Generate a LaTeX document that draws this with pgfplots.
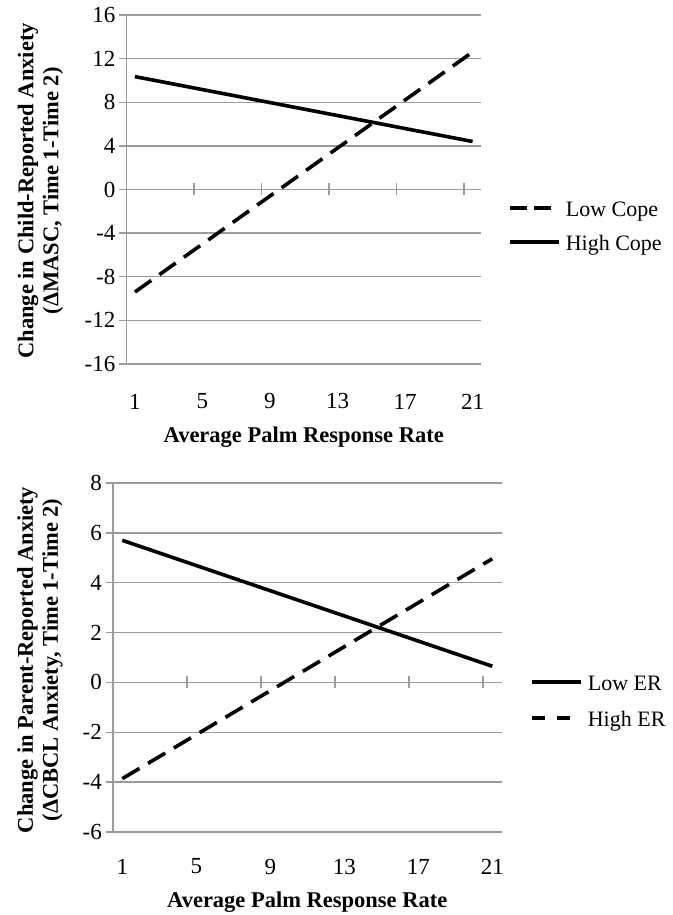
\documentclass[border=0pt]{standalone}
\usepackage{fontspec}
\setmainfont{Liberation Serif}
\usepackage{pgfplots}
\pgfplotsset{compat=1.18}
\definecolor{gridgray}{RGB}{155,155,155}

\pgfplotsset{
  excelstyle/.style={
    scale only axis, height=349bp,
    xmin=0.5, xmax=21.5,
    axis y line*=left, axis x line*=middle,
    hide obscured x ticks=false, hide obscured y ticks=false,
    axis line style={gridgray, line width=1.3bp},
    ymajorgrids, grid style={gridgray, line width=1.3bp},
    xtick={1,5,9,13,17,21},
    xticklabels={1,5,9,13,17,21},
    minor xtick={4.5,8.5,12.5,16.5,20.5},
    major x tick style={draw=none},
    minor x tick style={gridgray, line width=1.3bp},
    minor tick length=12bp,
    major tick length=7bp,
    xtick align=center, ytick align=outside,
    y tick style={gridgray, line width=1.3bp},
    tick label style={font=\fontsize{23bp}{27bp}\selectfont, text=black},
    yticklabel style={anchor=east, inner sep=0pt, xshift=-4bp},
    xticklabel style={anchor=center, inner sep=0pt},
    label style={font=\fontsize{22.5bp}{25bp}\selectfont\bfseries},
    ylabel style={align=center, anchor=center},
    xlabel style={anchor=center},
    legend style={draw=none, fill=none, inner sep=0pt, font=\fontsize{22bp}{25bp}\selectfont,
      anchor=west, nodes={inner sep=0pt, anchor=west, text height=18bp, text depth=2bp},
      /tikz/every odd column/.append style={column sep=5bp}},
    legend cell align=left,
    legend image code/.code={\draw[##1] (0bp,0bp) -- (49bp,0bp);},
  },
}

\begin{document}
\begin{tikzpicture}
\useasboundingbox (0,0) rectangle (673bp,915bp);
% ---------- top panel ----------
\begin{axis}[excelstyle,
  at={(126.5bp,551bp)}, anchor=south west, width=354.5bp,
  ymin=-16, ymax=16,
  ytick={-16,-12,-8,-4,0,4,8,12,16},
  yticklabels={-16,-12,-8,-4,0,4,8,12,16},
  xticklabel style={yshift=-208.5bp},
  ylabel={Change in Child-Reported Anxiety\\(ΔMASC, Time 1-Time 2)},
  ylabel style={at={(axis description cs:-0.2426,0.496)}},
  xlabel={Average Palm Response Rate},
  xlabel style={at={(axis description cs:0.5,-0.209)}},
  legend style={at={(axis description cs:1.0762,0.398)}, row sep=14bp},
]
\addplot[black, line width=3.6bp, dash pattern=on 20bp off 10bp,
  legend image post style={dash pattern=on 17bp off 7bp on 17bp off 20bp}]
  coordinates {(1,-9.4) (21,12.6)};
\addlegendentry{Low Cope}
\addplot[black, line width=3.6bp] coordinates {(1,10.35) (21,4.4)};
\addlegendentry{High Cope}
\end{axis}
% ---------- bottom panel ----------
\begin{axis}[excelstyle,
  at={(113bp,83bp)}, anchor=south west, width=388.5bp,
  ymin=-6, ymax=8,
  ytick={-6,-4,-2,0,2,4,6,8},
  yticklabels={-6,-4,-2,0,2,4,6,8},
  xticklabel style={yshift=-180.6bp},
  ylabel={Change in Parent-Reported Anxiety\\(ΔCBCL Anxiety, Time 1-Time 2)},
  ylabel style={at={(axis description cs:-0.188,0.493)}},
  xlabel={Average Palm Response Rate},
  xlabel style={at={(axis description cs:0.5,-0.2006)}},
  legend style={at={(axis description cs:1.0734,0.378)}, row sep=16bp},
]
\addplot[black, line width=3.6bp] coordinates {(1,5.7) (21,0.65)};
\addlegendentry{Low ER}
\addplot[black, line width=3.6bp, dash pattern=on 20bp off 10bp,
  legend image post style={dash pattern=on 13bp off 12bp on 13bp off 20bp}]
  coordinates {(1,-3.86) (21,4.96)};
\addlegendentry{High ER}
\end{axis}
\end{tikzpicture}
\end{document}
